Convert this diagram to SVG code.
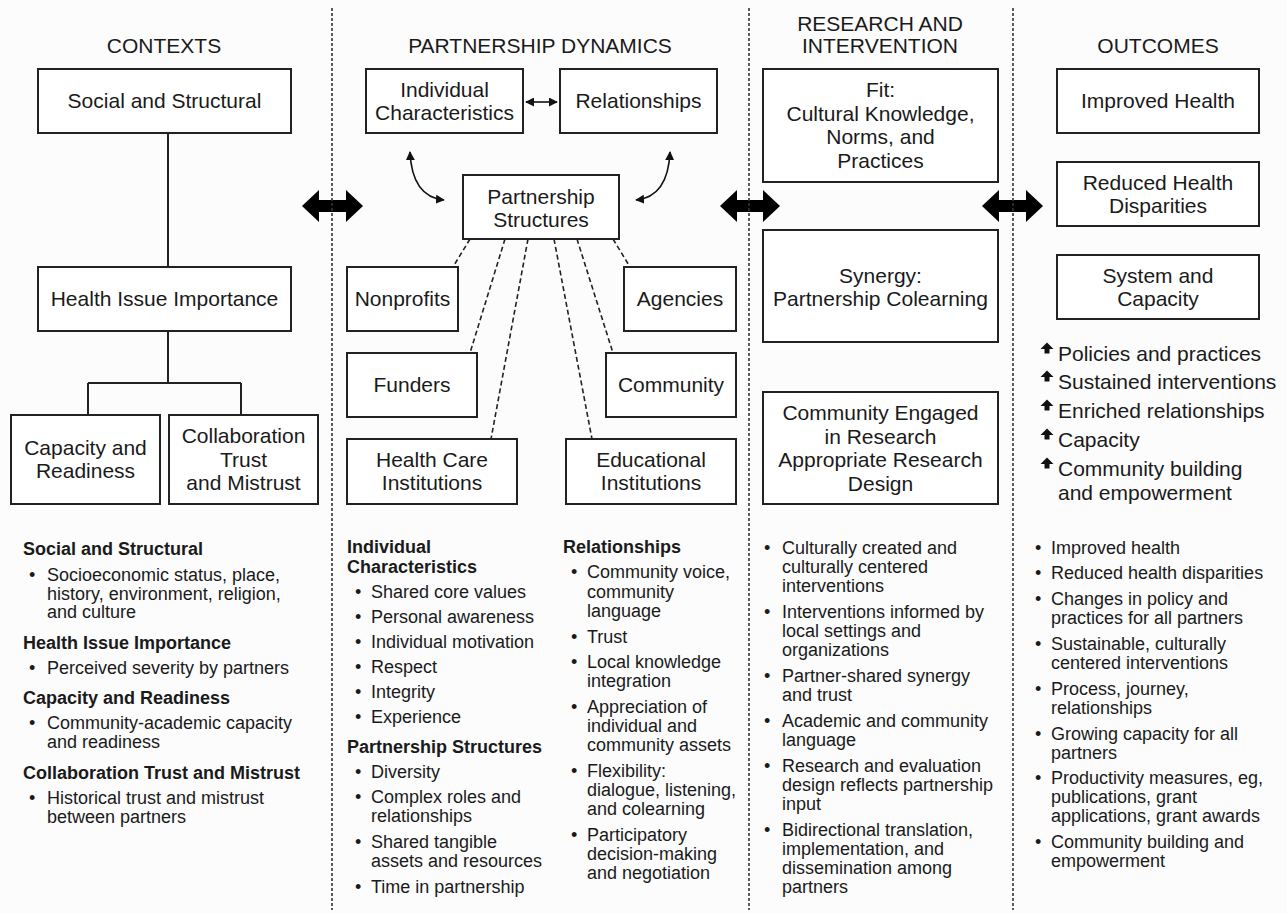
<svg xmlns="http://www.w3.org/2000/svg" width="1287" height="913" viewBox="0 0 1287 913">
<defs>
<style>
text{font-family:"Liberation Sans",Arial,Helvetica,sans-serif;fill:#1a1a1a}
.hd{font-size:21px;text-anchor:middle}
.bx{font-size:21px;text-anchor:middle}
.ls{font-size:21px}
.box{fill:#ffffff;stroke:#222;stroke-width:2}
.ln{fill:none;stroke:#222;stroke-width:2}
.dl{fill:none;stroke:#222;stroke-width:1.6;stroke-dasharray:5 3}
.div{fill:none;stroke:#333;stroke-width:1.6;stroke-dasharray:3 2}
.big{fill:#000}
.sm{fill:none;stroke:#111;stroke-width:1.6}
.b{font-size:18px;font-weight:bold}
.t{font-size:18px}
.up{fill:#111}
</style>
<marker id="ah" viewBox="0 0 10 10" refX="9" refY="5" markerWidth="9" markerHeight="9" markerUnits="userSpaceOnUse" orient="auto-start-reverse">
<path d="M0,0 L10,5 L0,10 Z" fill="#111"/>
</marker>
<path id="upb" d="M0,-6.5 L6.5,0 L2.5,0 L2.5,4.5 L-2.5,4.5 L-2.5,0 L-6.5,0 Z"/>
</defs>
<rect x="0" y="0" width="1287" height="913" fill="#fcfcfc"/>

<g id="headers">
<text class="hd" x="164" y="53">CONTEXTS</text>
<text class="hd" x="540" y="53">PARTNERSHIP DYNAMICS</text>
<text class="hd" x="880" y="31">RESEARCH AND</text>
<text class="hd" x="880" y="53">INTERVENTION</text>
<text class="hd" x="1158" y="53">OUTCOMES</text>
</g>

<g id="connectors">
<path class="ln" d="M168,133 V267 M168,331 V383 M88,383 H241 M88,383 V415 M241,383 V415"/>
<line class="sm" x1="526" y1="102" x2="557" y2="102" marker-start="url(#ah)" marker-end="url(#ah)"/>
<path class="sm" d="M410,152 Q412,197 444,200" marker-start="url(#ah)" marker-end="url(#ah)"/>
<path class="sm" d="M670,152 Q668,197 636,200" marker-start="url(#ah)" marker-end="url(#ah)"/>
<path class="dl" d="M470,239 L453,267 M505,239 L470,353 M528,239 L491,439 M554,239 L592,439 M577,239 L613,353 M613,239 L630,267"/>
<path class="big" d="M302,206 L319,190 L319,200 L346,200 L346,190 L363,206 L346,222 L346,212 L319,212 L319,222 Z"/>
<path class="big" d="M720,206 L737,190 L737,200 L763,200 L763,190 L780,206 L763,222 L763,212 L737,212 L737,222 Z"/>
<path class="big" d="M982,206 L999,190 L999,200 L1026,200 L1026,190 L1043,206 L1026,222 L1026,212 L999,212 L999,222 Z"/>
</g>

<g id="dividers">
<line class="div" x1="332" y1="8" x2="332" y2="910"/>
<line class="div" x1="749" y1="8" x2="749" y2="910"/>
<line class="div" x1="1013" y1="8" x2="1013" y2="910"/>
</g>

<g id="n-social"><rect class="box" x="38" y="69" width="253" height="64"/><text class="bx" x="164.5" y="108">Social and Structural</text></g>
<g id="n-health"><rect class="box" x="38" y="267" width="253" height="64"/><text class="bx" x="164.5" y="306">Health Issue Importance</text></g>
<g id="n-capacity"><rect class="box" x="11" y="415" width="149" height="89"/><text class="bx" x="85.5" y="455">Capacity and</text><text class="bx" x="85.5" y="478">Readiness</text></g>
<g id="n-collab"><rect class="box" x="169" y="415" width="149" height="89"/><text class="bx" x="243.5" y="443">Collaboration</text><text class="bx" x="243.5" y="466.5">Trust</text><text class="bx" x="243.5" y="490">and Mistrust</text></g>

<g id="n-indiv"><rect class="box" x="366" y="69" width="157" height="64"/><text class="bx" x="444.5" y="97">Individual</text><text class="bx" x="444.5" y="120">Characteristics</text></g>
<g id="n-rel"><rect class="box" x="560" y="69" width="157" height="64"/><text class="bx" x="638.5" y="108">Relationships</text></g>
<g id="n-ps"><rect class="box" x="463" y="175" width="156" height="64"/><text class="bx" x="541" y="204">Partnership</text><text class="bx" x="541" y="227">Structures</text></g>
<g id="n-nonprofits"><rect class="box" x="347" y="267" width="111" height="64"/><text class="bx" x="402.5" y="306">Nonprofits</text></g>
<g id="n-agencies"><rect class="box" x="624" y="267" width="112" height="64"/><text class="bx" x="680" y="306">Agencies</text></g>
<g id="n-funders"><rect class="box" x="347" y="353" width="130" height="64"/><text class="bx" x="412" y="392">Funders</text></g>
<g id="n-community"><rect class="box" x="606" y="353" width="130" height="64"/><text class="bx" x="671" y="392">Community</text></g>
<g id="n-healthcare"><rect class="box" x="347" y="439" width="170" height="65"/><text class="bx" x="432" y="467">Health Care</text><text class="bx" x="432" y="490">Institutions</text></g>
<g id="n-educational"><rect class="box" x="566" y="439" width="170" height="65"/><text class="bx" x="651" y="467">Educational</text><text class="bx" x="651" y="490">Institutions</text></g>

<g id="n-fit"><rect class="box" x="763" y="69" width="235" height="113"/><text class="bx" x="880.5" y="97">Fit:</text><text class="bx" x="880.5" y="120.5">Cultural Knowledge,</text><text class="bx" x="880.5" y="144">Norms, and</text><text class="bx" x="880.5" y="167.5">Practices</text></g>
<g id="n-synergy"><rect class="box" x="763" y="230" width="235" height="112"/><text class="bx" x="880.5" y="283">Synergy:</text><text class="bx" x="880.5" y="306">Partnership Colearning</text></g>
<g id="n-engaged"><rect class="box" x="763" y="392" width="235" height="112"/><text class="bx" x="880.5" y="420">Community Engaged</text><text class="bx" x="880.5" y="443.5">in Research</text><text class="bx" x="880.5" y="467">Appropriate Research</text><text class="bx" x="880.5" y="490.5">Design</text></g>

<g id="n-improved"><rect class="box" x="1057" y="69" width="202" height="64"/><text class="bx" x="1158" y="108">Improved Health</text></g>
<g id="n-reduced"><rect class="box" x="1057" y="162" width="202" height="64"/><text class="bx" x="1158" y="190">Reduced Health</text><text class="bx" x="1158" y="213">Disparities</text></g>
<g id="n-system"><rect class="box" x="1057" y="255" width="202" height="64"/><text class="bx" x="1158" y="283">System and</text><text class="bx" x="1158" y="306">Capacity</text></g>

<g id="system-list">
<use href="#upb" class="up" x="1047" y="349"/><text class="ls" x="1058" y="361">Policies and practices</text>
<use href="#upb" class="up" x="1047" y="377"/><text class="ls" x="1058" y="389">Sustained interventions</text>
<use href="#upb" class="up" x="1047" y="406"/><text class="ls" x="1058" y="418">Enriched relationships</text>
<use href="#upb" class="up" x="1047" y="435"/><text class="ls" x="1058" y="447">Capacity</text>
<use href="#upb" class="up" x="1047" y="464"/><text class="ls" x="1058" y="476">Community building</text>
<text class="ls" x="1058" y="500">and empowerment</text>
</g>

<g id="contexts-text">
<text class="b" x="23" y="555">Social and Structural</text>
<text class="t" x="29" y="581">•</text><text class="t" x="47" y="581">Socioeconomic status, place,</text>
<text class="t" x="47" y="600">history, environment, religion,</text>
<text class="t" x="47" y="618">and culture</text>
<text class="b" x="23" y="649">Health Issue Importance</text>
<text class="t" x="29" y="674">•</text><text class="t" x="47" y="674">Perceived severity by partners</text>
<text class="b" x="23" y="704">Capacity and Readiness</text>
<text class="t" x="29" y="729">•</text><text class="t" x="47" y="729">Community-academic capacity</text>
<text class="t" x="47" y="748">and readiness</text>
<text class="b" x="23" y="779">Collaboration Trust and Mistrust</text>
<text class="t" x="29" y="804">•</text><text class="t" x="47" y="804">Historical trust and mistrust</text>
<text class="t" x="47" y="823">between partners</text>
</g>

<g id="dynamics-text">
<text class="b" x="347" y="553">Individual</text>
<text class="b" x="347" y="573">Characteristics</text>
<text class="t" x="355" y="598">•</text><text class="t" x="371" y="598">Shared core values</text>
<text class="t" x="355" y="623">•</text><text class="t" x="371" y="623">Personal awareness</text>
<text class="t" x="355" y="648">•</text><text class="t" x="371" y="648">Individual motivation</text>
<text class="t" x="355" y="673">•</text><text class="t" x="371" y="673">Respect</text>
<text class="t" x="355" y="698">•</text><text class="t" x="371" y="698">Integrity</text>
<text class="t" x="355" y="723">•</text><text class="t" x="371" y="723">Experience</text>
<text class="b" x="347" y="753">Partnership Structures</text>
<text class="t" x="355" y="778">•</text><text class="t" x="371" y="778">Diversity</text>
<text class="t" x="355" y="803">•</text><text class="t" x="371" y="803">Complex roles and</text>
<text class="t" x="371" y="822">relationships</text>
<text class="t" x="355" y="848">•</text><text class="t" x="371" y="848">Shared tangible</text>
<text class="t" x="371" y="867">assets and resources</text>
<text class="t" x="355" y="893">•</text><text class="t" x="371" y="893">Time in partnership</text>

<text class="b" x="563" y="553">Relationships</text>
<text class="t" x="571" y="578">•</text><text class="t" x="587" y="578">Community voice,</text>
<text class="t" x="587" y="598">community</text>
<text class="t" x="587" y="617">language</text>
<text class="t" x="571" y="643">•</text><text class="t" x="587" y="643">Trust</text>
<text class="t" x="571" y="668">•</text><text class="t" x="587" y="668">Local knowledge</text>
<text class="t" x="587" y="687">integration</text>
<text class="t" x="571" y="713">•</text><text class="t" x="587" y="713">Appreciation of</text>
<text class="t" x="587" y="732">individual and</text>
<text class="t" x="587" y="751">community assets</text>
<text class="t" x="571" y="777">•</text><text class="t" x="587" y="777">Flexibility:</text>
<text class="t" x="587" y="796">dialogue, listening,</text>
<text class="t" x="587" y="815">and colearning</text>
<text class="t" x="571" y="841">•</text><text class="t" x="587" y="841">Participatory</text>
<text class="t" x="587" y="860">decision-making</text>
<text class="t" x="587" y="879">and negotiation</text>
</g>

<g id="research-text">
<text class="t" x="764" y="554">•</text><text class="t" x="782" y="554">Culturally created and</text>
<text class="t" x="782" y="573">culturally centered</text>
<text class="t" x="782" y="592">interventions</text>
<text class="t" x="764" y="618">•</text><text class="t" x="782" y="618">Interventions informed by</text>
<text class="t" x="782" y="637">local settings and</text>
<text class="t" x="782" y="656">organizations</text>
<text class="t" x="764" y="682">•</text><text class="t" x="782" y="682">Partner-shared synergy</text>
<text class="t" x="782" y="701">and trust</text>
<text class="t" x="764" y="727">•</text><text class="t" x="782" y="727">Academic and community</text>
<text class="t" x="782" y="746">language</text>
<text class="t" x="764" y="772">•</text><text class="t" x="782" y="772">Research and evaluation</text>
<text class="t" x="782" y="791">design reflects partnership</text>
<text class="t" x="782" y="810">input</text>
<text class="t" x="764" y="836">•</text><text class="t" x="782" y="836">Bidirectional translation,</text>
<text class="t" x="782" y="855">implementation, and</text>
<text class="t" x="782" y="874">dissemination among</text>
<text class="t" x="782" y="893">partners</text>
</g>

<g id="outcomes-text">
<text class="t" x="1035" y="554">•</text><text class="t" x="1051" y="554">Improved health</text>
<text class="t" x="1035" y="579">•</text><text class="t" x="1051" y="579">Reduced health disparities</text>
<text class="t" x="1035" y="605">•</text><text class="t" x="1051" y="605">Changes in policy and</text>
<text class="t" x="1051" y="624">practices for all partners</text>
<text class="t" x="1035" y="650">•</text><text class="t" x="1051" y="650">Sustainable, culturally</text>
<text class="t" x="1051" y="669">centered interventions</text>
<text class="t" x="1035" y="695">•</text><text class="t" x="1051" y="695">Process, journey,</text>
<text class="t" x="1051" y="714">relationships</text>
<text class="t" x="1035" y="740">•</text><text class="t" x="1051" y="740">Growing capacity for all</text>
<text class="t" x="1051" y="759">partners</text>
<text class="t" x="1035" y="784">•</text><text class="t" x="1051" y="784">Productivity measures, eg,</text>
<text class="t" x="1051" y="803">publications, grant</text>
<text class="t" x="1051" y="822">applications, grant awards</text>
<text class="t" x="1035" y="848">•</text><text class="t" x="1051" y="848">Community building and</text>
<text class="t" x="1051" y="867">empowerment</text>
</g>
</svg>
